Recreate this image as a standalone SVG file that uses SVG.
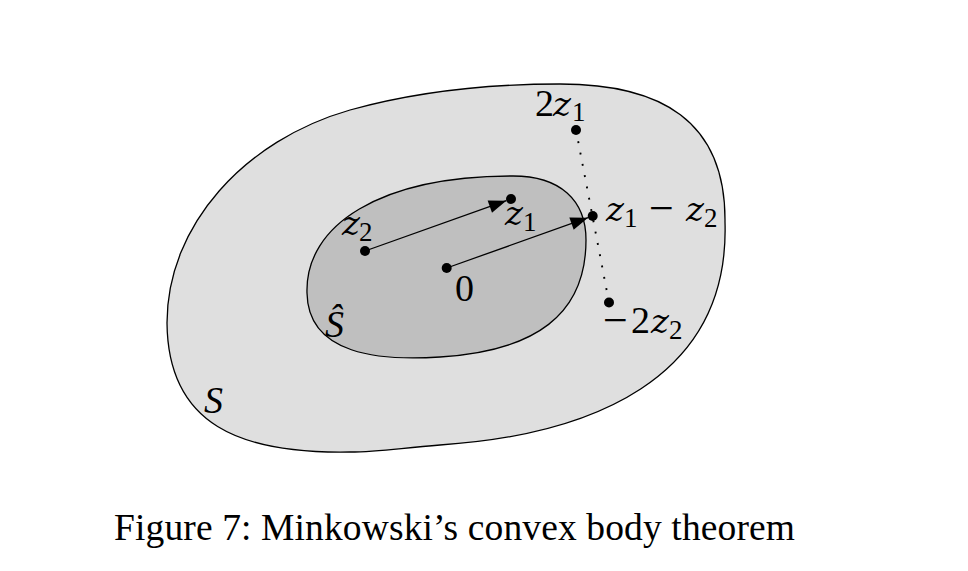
<svg xmlns="http://www.w3.org/2000/svg" width="968" height="571" viewBox="0 0 968 571" font-family="'Liberation Serif', 'Times New Roman', serif">
<style>
.shape{stroke:#000;stroke-width:1.3;stroke-linejoin:round}
.outer{fill:#dfdfdf}
.inner{fill:#bfbfbf}
.dot{fill:#000}
.arrow{stroke:#000;stroke-width:1.3;fill:none;marker-end:url(#ah)}
.dotted{stroke:#000;stroke-width:1.9;fill:none;stroke-dasharray:1.9 9.6}
text.lbl{font-family:'Liberation Serif','Times New Roman',serif;font-size:38px;fill:#000}
.var{font-family:'DejaVu Serif','Liberation Serif',serif;font-style:italic;font-size:34px}
.bigvar{font-family:'DejaVu Serif','Liberation Serif',serif;font-style:italic;font-size:37px}
tspan.sb{font-size:27px}
tspan.op{font-size:44px}
text.cap{font-family:'Liberation Serif','Times New Roman',serif;font-size:37.5px;fill:#000}
</style>
<defs>
<marker id="ah" markerUnits="userSpaceOnUse" markerWidth="19" markerHeight="14" refX="17.5" refY="6.5" orient="auto" overflow="visible">
<path d="M0,0 L17.5,6.5 L0,13 Z" fill="#000"/>
</marker>
</defs>
<rect width="968" height="571" fill="#fff"/>
<g id="S">
<path class="shape outer" d="M167,323 C167,225 245,140 350,110 C422,90 490,84 560,84 C660,84 726,120 725,222 C730,380 590,435 440,445 C400,448 380,452 350,452 C240,454 168,425 167,323 Z"/>
<text class="lbl bigvar" x="204" y="413">S</text>
</g>
<g id="S-hat">
<path class="shape inner" d="M307,293 C305,225 380,176 513,176 C560,176 586,200 586,240 C586,315 535,351 440,357 C380,361 308,355 307,293 Z"/>
<text class="lbl bigvar" x="325" y="337">Ŝ</text>
</g>
<g id="connectors">
<line class="dotted" x1="576" y1="130" x2="609" y2="302.5"/>
<line class="arrow" x1="365" y1="251" x2="506.3" y2="200.7"/>
<line class="arrow" x1="446.7" y1="268" x2="588" y2="217.7"/>
</g>
<g id="n-2z1">
<circle class="dot" cx="576" cy="130" r="5"/>
<text class="lbl" y="116"><tspan x="535">2</tspan><tspan class="var" x="553">z</tspan><tspan class="sb" x="572" y="121">1</tspan></text>
</g>
<g id="n-z1">
<circle class="dot" cx="511" cy="199" r="5"/>
<text class="lbl" y="225"><tspan class="var" x="505">z</tspan><tspan class="sb" x="523" y="231">1</tspan></text>
</g>
<g id="n-z1-z2">
<circle class="dot" cx="592.7" cy="216" r="5"/>
<text class="lbl" y="221"><tspan class="var" x="606">z</tspan><tspan class="sb" x="624" y="227">1</tspan><tspan class="op" x="649" y="223">−</tspan><tspan class="var" x="686" y="221">z</tspan><tspan class="sb" x="704" y="227">2</tspan></text>
</g>
<g id="n-z2">
<circle class="dot" cx="365" cy="251" r="5"/>
<text class="lbl" y="235"><tspan class="var" x="342">z</tspan><tspan class="sb" x="359" y="241">2</tspan></text>
</g>
<g id="n-0">
<circle class="dot" cx="446.7" cy="268" r="5"/>
<text class="lbl" x="455" y="301">0</text>
</g>
<g id="n-m2z2">
<circle class="dot" cx="609" cy="302.5" r="5"/>
<text class="lbl" y="333"><tspan class="op" x="603" y="335">−</tspan><tspan x="631" y="333">2</tspan><tspan class="var" x="651">z</tspan><tspan class="sb" x="669" y="339">2</tspan></text>
</g>
<g id="caption">
<text class="cap" x="114" y="540" textLength="681" lengthAdjust="spacing">Figure 7: Minkowski’s convex body theorem</text>
</g>
</svg>
